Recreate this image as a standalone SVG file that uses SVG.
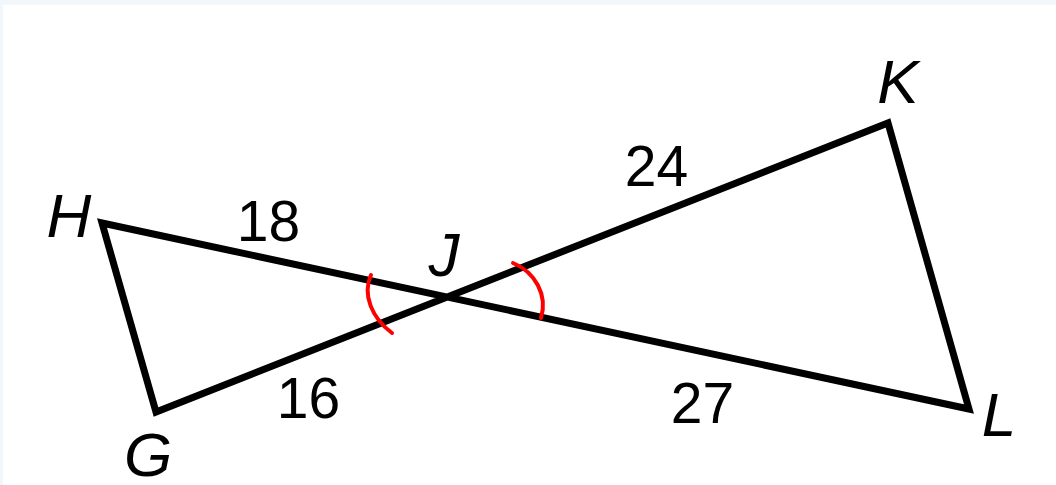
<svg xmlns="http://www.w3.org/2000/svg" width="1056" height="485" viewBox="0 0 1056 485">
  <style>
    .edge { fill: none; stroke: #000; stroke-width: 7; stroke-linejoin: miter; }
    .mark { fill: none; stroke: #f00; stroke-width: 4; stroke-linecap: round; }
    .pt { font-family: "Liberation Sans", Arial, sans-serif; font-style: italic; font-size: 62px; fill: #000; text-anchor: middle; }
    .len { font-family: "Liberation Sans", Arial, sans-serif; font-size: 57px; fill: #000; text-anchor: middle; }
  </style>
  <rect x="0" y="0" width="1056" height="485" fill="#f2f7fb"/>
  <rect x="3" y="5" width="1053" height="480" fill="#ffffff"/>
  <g id="connectors">
    <polygon class="edge" points="156,412 102,223 969,409 888,123"/>
    <path class="mark" d="M371,275 C362,295 372,318 392,333"/>
    <path class="mark" d="M513,263 C535,272 548,295 541,318"/>
  </g>
  <g id="node-H"><text class="pt" x="69" y="237">H</text></g>
  <g id="node-G"><text class="pt" x="148" y="476">G</text></g>
  <g id="node-K"><text class="pt" x="898" y="103">K</text></g>
  <g id="node-L"><text class="pt" x="999" y="436">L</text></g>
  <g id="node-J"><text class="pt" x="444" y="276">J</text></g>
  <g id="labels">
    <text class="len" x="268.5" y="241">18</text>
    <text class="len" x="656.5" y="186">24</text>
    <text class="len" x="308.5" y="418">16</text>
    <text class="len" x="702.5" y="423">27</text>
  </g>
</svg>
